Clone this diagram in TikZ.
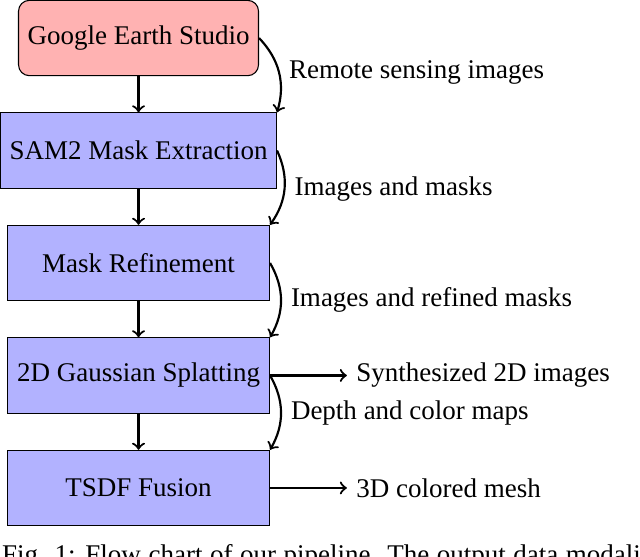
\documentclass[tikz,border=0pt]{standalone}
\usepackage{fontspec}
\setmainfont{Liberation Serif}
\usetikzlibrary{positioning}
\tikzset{
  blk/.style={draw, fill=blue!30, minimum width=3.41cm, minimum height=0.98cm},
  src/.style={draw, fill=red!30, rounded corners, minimum height=0.98cm},
  flow/.style={thick,->},
}

\begin{document}
\begin{tikzpicture}[node distance=0.47cm, font=\fontsize{10}{12}\selectfont]
\useasboundingbox (0,0) rectangle (8.33,-7.237);
\node[src] (ges) at (1.803,-0.495) {Google Earth Studio};
\node[blk,below=of ges] (sam) {SAM2 Mask Extraction};
\node[blk,below=of sam] (ref) {Mask Refinement};
\node[blk,below=of ref] (gs) {2D Gaussian Splatting};
\node[blk,below=of gs] (tsdf) {TSDF Fusion};
\node[right=1cm of gs] (img) {Synthesized 2D images};
\node[right=1cm of tsdf] (mesh) {3D colored mesh};
% main chain
\draw[flow] (ges) -- (sam);
\draw[flow] (sam) -- (ref);
\draw[flow] (ref) -- (gs);
\draw[flow] (gs) -- (tsdf);
% data passed along
\draw[flow] (ges.east) to[bend left] node[right] {Remote sensing images} (sam.north east);
\draw[flow] (sam.east) to[bend left] node[right] {Images and masks} (ref.north east);
\draw[flow] (ref.east) to[bend left] node[right] {Images and refined masks} (gs.north east);
\draw[flow] (gs.east) to[bend left] node[right] {Depth and color maps} (tsdf.north east);
\draw[flow] (gs) -- (img);
\draw[flow] (tsdf) -- (mesh);
\begin{scope}
\clip (0,0) rectangle (8.33,-7.237);
\node[anchor=base west,inner sep=0] (cap) at (0.02,-7.34) {\spaceskip=2.8pt Fig. 1: Flow chart of our pipeline. The output data modalities};
\end{scope}
\end{tikzpicture}
\end{document}
